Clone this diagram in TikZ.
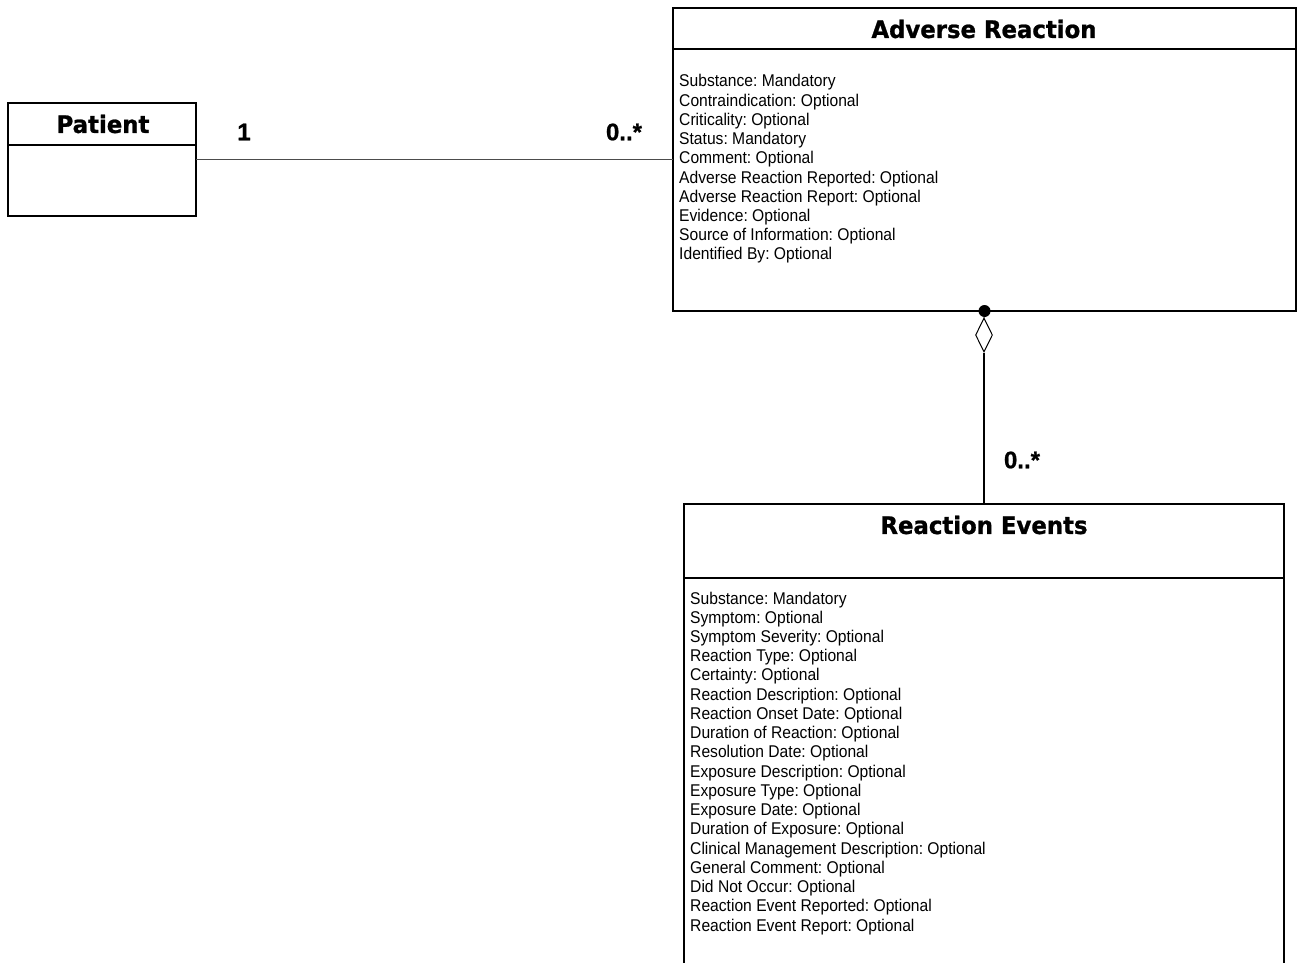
\documentclass[tikz,border=0pt]{standalone}
\usepackage{fontspec}
\usetikzlibrary{shapes.geometric}
\newfontfamily\attrfont[FakeStretch=0.92]{Liberation Sans}
\newfontfamily\multfont[BoldFeatures={FakeBold=0.8}]{Liberation Sans}
\newfontfamily\titlefont[FakeStretch=0.95,BoldFeatures={FakeBold=1}]{DejaVu Sans}
\frenchspacing
\tikzset{
  box/.style={draw=black, line width=1.1pt, inner sep=0pt, outer sep=0pt},
  boxline/.style={draw=black, line width=1.1pt},
  conn/.style={draw=black!70, line width=1.2pt},
  title/.style={font=\titlefont\bfseries\fontsize{24}{28}\selectfont, inner sep=0pt},
  attr/.style={font=\attrfont\frenchspacing\fontsize{17}{19}\selectfont, anchor=base west, inner sep=0pt},
  mult/.style={font=\multfont\bfseries\fontsize{24}{28}\selectfont, inner sep=0pt},
}
\begin{document}
\begin{tikzpicture}[x=1pt,y=-1pt]
\useasboundingbox (0,0) rectangle (1301,963);
% Patient
\node[box, minimum width=188, minimum height=113] (patient) at (102,159.5) {};
\node[title] (ptitle) at (103,124) {Patient};
\coordinate (pdivl) at (8,145);
\coordinate (pdivr) at (196,145);
\draw[boxline] (pdivl) -- (pdivr);
% Adverse Reaction
\node[box, minimum width=623, minimum height=303] (ar) at (984.5,159.5) {};
\node[title] (artitle) at (984,29) {Adverse Reaction};
\coordinate (ardivl) at (673,49);
\coordinate (ardivr) at (1296,49);
\draw[boxline] (ardivl) -- (ardivr);
\foreach \t [count=\i] in {Substance: Mandatory,Contraindication: Optional,Criticality: Optional,Status: Mandatory,Comment: Optional,Adverse Reaction Reported: Optional,Adverse Reaction Report: Optional,Evidence: Optional,Source of Information: Optional,Identified By: Optional}
  \node[attr] (ara\i) at (679,{87+(\i-1)*19.2}) {\t};
% Reaction Events (open at the bottom)
\node[inner sep=0pt, outer sep=0pt, minimum width=600, minimum height=459] (re) at (984,733.5) {};
\draw[boxline] (re.south west) -- (re.north west) -- (re.north east) -- (re.south east);
\node[title] (retitle) at (984,525) {Reaction Events};
\coordinate (redivl) at (684,578);
\coordinate (redivr) at (1284,578);
\draw[boxline] (redivl) -- (redivr);
\foreach \t [count=\i] in {Substance: Mandatory,Symptom: Optional,Symptom Severity: Optional,Reaction Type: Optional,Certainty: Optional,Reaction Description: Optional,Reaction Onset Date: Optional,Duration of Reaction: Optional,Resolution Date: Optional,Exposure Description: Optional,Exposure Type: Optional,Exposure Date: Optional,Duration of Exposure: Optional,Clinical Management Description: Optional,General Comment: Optional,Did Not Occur: Optional,Reaction Event Reported: Optional,Reaction Event Report: Optional}
  \node[attr] (rea\i) at (690,{604+(\i-1)*19.24}) {\t};
% Association Patient -- Adverse Reaction
\draw[conn] (patient.east) -- (patient.east -| ar.west);
\node[mult] (m1) at (244,132) {1};
\node[mult] (m2) at (624,132) {0..*};
% Aggregation Adverse Reaction <>-- Reaction Events
\node[diamond, draw=black, line width=1pt, fill=white, inner sep=0pt, minimum width=17, minimum height=34] (dia) at (984,335) {};
\node[circle, fill=black, inner sep=0pt, minimum size=12] (dot) at (ar.south) {};
\draw[boxline] (dot) -- (dia.north);
\draw[boxline] (dia.south) -- (re.north);
\node[mult] (m3) at (1022,460) {0..*};
\end{tikzpicture}
\end{document}
